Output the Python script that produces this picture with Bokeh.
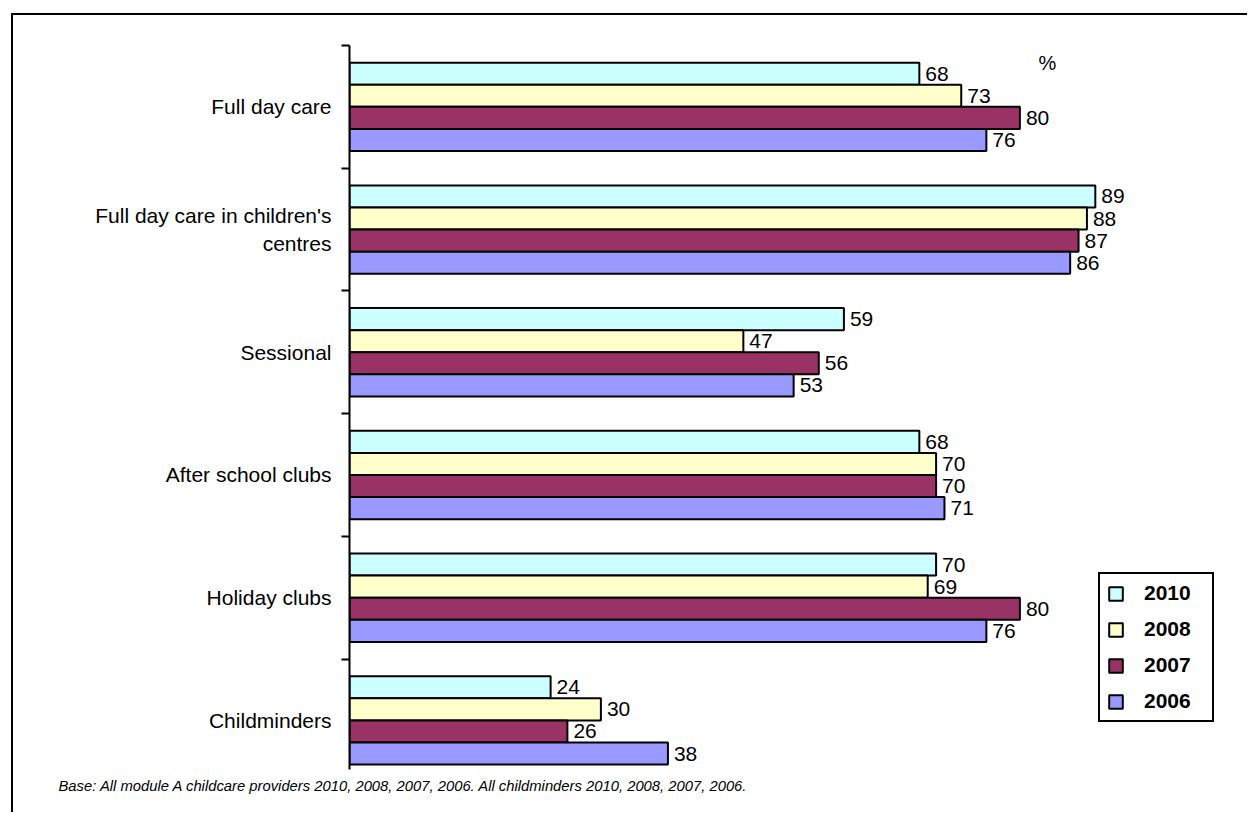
from bokeh.plotting import figure
from bokeh.models import ColumnDataSource, FixedTicker, Legend, LegendItem, Label, Range1d, Title
from bokeh.core.properties import value
from bokeh.embed import file_html
from bokeh.resources import INLINE

# Provision types, top to bottom
categories = [
    "Full day care",
    "Full day care in children's\ncentres",
    "Sessional",
    "After school clubs",
    "Holiday clubs",
    "Childminders",
]
years = ["2010", "2008", "2007", "2006"]

# Percentages per survey year
values_2010 = [68, 89, 59, 68, 70, 24]
values_2008 = [73, 88, 47, 70, 69, 30]
values_2007 = [80, 87, 56, 70, 80, 26]
values_2006 = [76, 86, 53, 71, 76, 38]
series = [values_2010, values_2008, values_2007, values_2006]

colors = ["#CCFFFF", "#FFFFCC", "#993366", "#9999FF"]

unit_label = "%"
footnote = ("Base: All module A childcare providers 2010, 2008, 2007, 2006. "
            "All childminders 2010, 2008, 2007, 2006.")

FONT = "Liberation Sans"
n = len(categories)
bar_h = 0.18
centers = [n - 0.5 - i for i in range(n)]
boundaries = [float(k) for k in range(1, n + 1)]

p = figure(
    width=1236, height=799,
    x_range=Range1d(0, 107.4), y_range=Range1d(0.1, n),
    output_backend="svg", toolbar_location=None,
    min_border_left=336, min_border_right=0,
    min_border_top=30, min_border_bottom=45,
)
p.styles = {
    "margin-left": "11px", "margin-top": "13px",
    "border-left": "2px solid black", "border-top": "2px solid black",
}
p.outline_line_color = None
p.xgrid.visible = False
p.ygrid.visible = False
p.xaxis.visible = False

ax = p.yaxis[0]
ax.ticker = FixedTicker(ticks=centers, minor_ticks=boundaries)
ax.major_label_overrides = {c: lab for c, lab in zip(centers, categories)}
ax.major_tick_in = 0
ax.major_tick_out = 0
ax.minor_tick_in = 0
ax.minor_tick_out = 8
ax.minor_tick_line_width = 2
ax.minor_tick_line_color = "black"
ax.axis_line_width = 2
ax.axis_line_color = "black"
ax.major_label_standoff = 10
ax.major_label_text_font = FONT
ax.major_label_text_font_size = "21px"
ax.major_label_text_color = "black"

items = []
for k, (year, vals, col) in enumerate(zip(years, series, colors)):
    offset = (1.5 - k) * bar_h
    src = ColumnDataSource(dict(
        y=[c + offset for c in centers],
        v=vals,
        lab=[str(v) for v in vals],
    ))
    r = p.hbar(y="y", left=0, right="v", height=bar_h, source=src,
               fill_color=col, line_color="black", line_width=2)
    p.text(x="v", y="y", text="lab", source=src, x_offset=6,
           text_align="left", text_baseline="middle",
           text_font=value(FONT), text_font_size="21px", text_color="black")
    items.append(LegendItem(label=year, renderers=[r]))

legend = Legend(
    items=items, location=(749, 47), margin=0, padding=7, spacing=12,
    glyph_width=17, glyph_height=17, label_standoff=20,
    label_width=61, label_height=24,
    label_text_font=FONT, label_text_font_size="21px",
    label_text_font_style="bold", label_text_color="black",
    border_line_color="black", border_line_width=2, border_line_alpha=1.0,
    background_fill_color="white", background_fill_alpha=1.0,
)
p.add_layout(legend)

# Unit marker, positioned from the plot frame's bottom-left corner
p.add_layout(Label(x=689, y=707, x_units="screen", y_units="screen",
                   text=unit_label, text_baseline="middle",
                   text_font=FONT, text_font_size="20px", text_color="black"))

# Base note under the chart
note = Title(text=footnote, align="left", offset=-291, standoff=12,
             text_font=FONT, text_font_size="14.8px",
             text_font_style="italic", text_color="black")
p.add_layout(note, "below")

open("out.html", "w").write(file_html(p, INLINE))
